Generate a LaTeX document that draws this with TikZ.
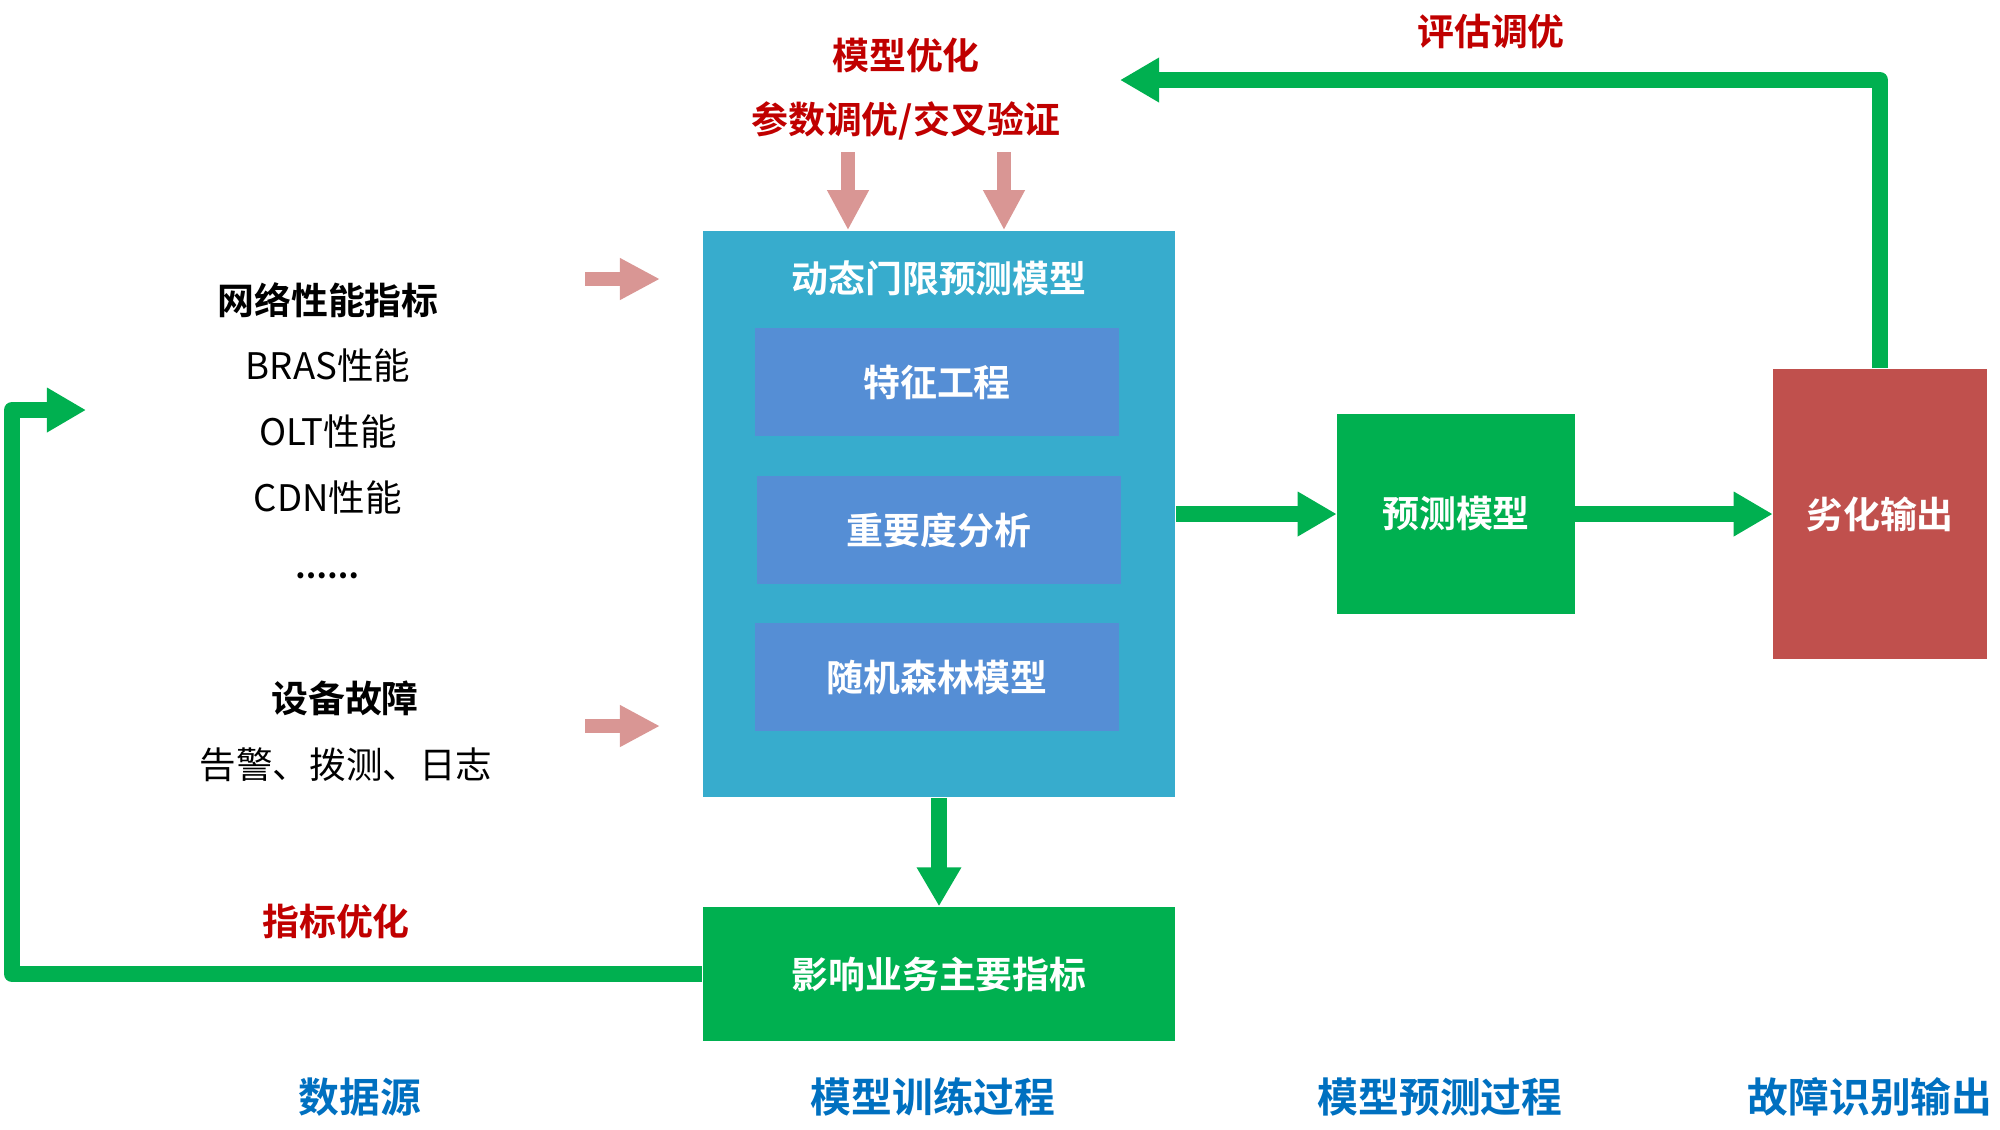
\documentclass[tikz,border=0pt]{standalone}
\usepackage{fontspec}
\setmainfont{Noto Sans CJK SC}
\newfontfamily\cjkbold{Noto Sans CJK SC Bold}
\usetikzlibrary{arrows.meta,positioning,calc}

\definecolor{trainblue}{HTML}{37ACCD}
\definecolor{stepblue}{HTML}{558ED5}
\definecolor{flowgreen}{HTML}{00B050}
\definecolor{outred}{HTML}{C0504D}
\definecolor{notered}{HTML}{C00000}
\definecolor{stageblue}{HTML}{0070C0}
\definecolor{feedpink}{HTML}{D99694}

\tikzset{
  boxtext/.style={text=white, font=\cjkbold\fontsize{10.5}{12}\selectfont},
  stepbox/.style={boxtext, fill=stepblue, minimum width=3.64cm, minimum height=1.07cm, inner sep=0pt},
  srctext/.style={font=\fontsize{10.4}{12}\selectfont, inner sep=0pt},
  srchead/.style={font=\cjkbold\fontsize{10.5}{12}\selectfont, inner sep=0pt},
  tunetext/.style={text=notered, font=\cjkbold\fontsize{10.5}{12}\selectfont, inner sep=0pt},
  stagetext/.style={text=stageblue, font=\cjkbold\fontsize{11.6}{13}\selectfont, inner sep=0pt},
  flow/.style={draw=flowgreen, line width=0.16cm, line join=round, -{Triangle[length=0.39cm,width=0.42cm]}},
  feed/.style={draw=feedpink, line width=0.14cm, -{Triangle[length=0.40cm,width=0.39cm]}}
}

\begin{document}
\begin{tikzpicture}[x=0.01cm, y=-0.01cm]
    \useasboundingbox (0,0) rectangle (2000,1129);

    % Training box
    \node [fill=trainblue, minimum width=4.72cm, minimum height=5.66cm, inner sep=0pt] (train) at (939,514) {};
    \node [boxtext] (traintitle) at (939,278) {动态门限预测模型};
    \node [stepbox] (feature) at (937,382) {特征工程};
    \node [stepbox] (importance) at (939,530) {重要度分析};
    \node [stepbox] (forest) at (937,677) {随机森林模型};

    % Key indicators
    \node [boxtext, fill=flowgreen, minimum width=4.72cm, minimum height=1.34cm, inner sep=0pt] (impact) at (939,974) {影响业务主要指标};

    % Prediction and output
    \node [boxtext, fill=flowgreen, minimum width=2.37cm, minimum height=1.99cm, inner sep=0pt] (predict) at (1456,514) {预测模型};
    \node [boxtext, fill=outred, minimum width=2.13cm, minimum height=2.90cm, inner sep=0pt] (degrade) at (1880,514) {劣化输出};

    % Data sources
    \node [srchead] (netperf) at (328,300) {网络性能指标};
    \node [srctext] (bras) at (328,366) {BRAS性能};
    \node [srctext] (olt) at (328,432) {OLT性能};
    \node [srctext] (cdn) at (328,498) {CDN性能};
    \node [srctext, font=\bfseries\fontsize{8}{10}\selectfont] (more) at (327,576) {……};
    \node [srchead] (fault) at (345,698) {设备故障};
    \node [srctext] (alarm) at (346,765) {告警、拨测、日志};

    % Tuning labels
    \node [tunetext] (modelopt) at (906,55) {模型优化};
    \node [tunetext] (paramopt) at (906,121) {参数调优/交叉验证};
    \node [tunetext] (evalopt) at (1491,31) {评估调优};
    \node [tunetext] (kpiopt) at (336,921) {指标优化};

    % Stages
    \node [stagetext] (stagesrc) at (360,1097) {数据源};
    \node [stagetext] (stagetrain) at (933,1097) {模型训练过程};
    \node [stagetext] (stagepred) at (1440,1097) {模型预测过程};
    \node [stagetext] (stageout) at (1870,1097) {故障识别输出};

    % Pink inputs
    \coordinate (tuneA) at (848,152);
    \coordinate (tuneB) at (1004,152);
    \coordinate (kpiA) at (585,279);
    \coordinate (kpiB) at (660,279);
    \coordinate (faultA) at (585,726);
    \coordinate (faultB) at (660,726);
    \draw [feed] (tuneA) -- (tuneA |- train.north);
    \draw [feed] (tuneB) -- (tuneB |- train.north);
    \draw [feed] (kpiA) -- (kpiB);
    \draw [feed] (faultA) -- (faultB);

    % Main flow
    \draw [flow] (train.south) -- (impact.north);
    \draw [flow] (train.east) -- (predict.west);
    \draw [flow] (predict.east) -- (degrade.west);

    % Feedback loops
    \coordinate (evalin) at (1120,80);
    \draw [flow] (degrade.north) |- (evalin);
    \coordinate (loopx) at (12,0);
    \coordinate (srcin) at (86,410);
    \draw [flow] (impact.west) -| (loopx |- srcin) -- (srcin);
\end{tikzpicture}
\end{document}
